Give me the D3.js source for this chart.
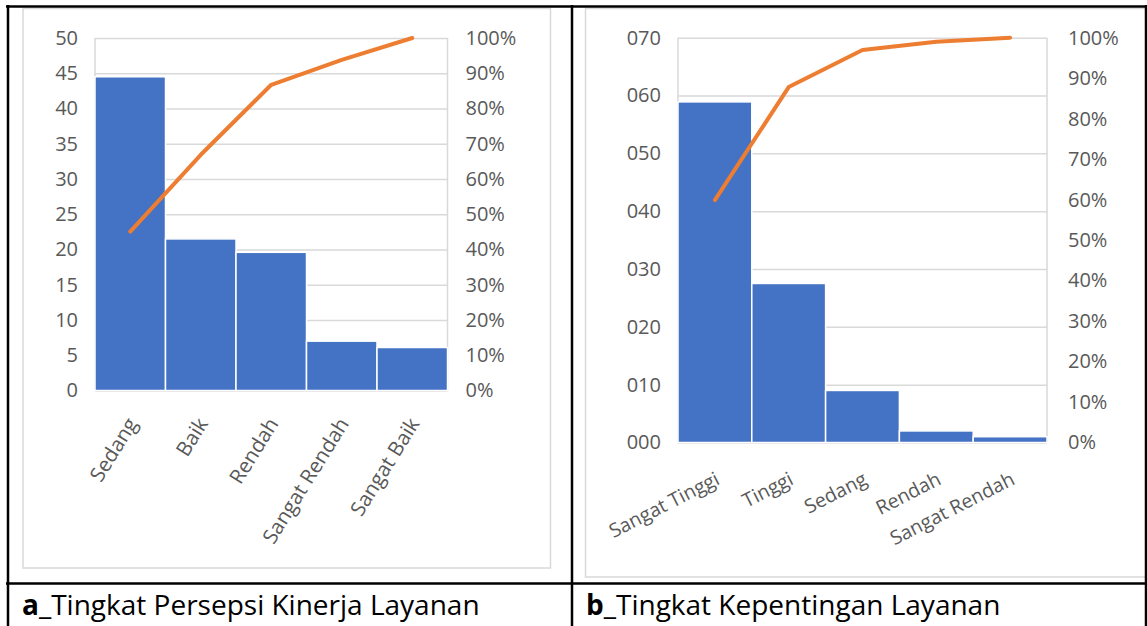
<!DOCTYPE html>
<html>
<head>
<meta charset="utf-8">
<script src="https://cdn.jsdelivr.net/npm/d3@7"></script>
<style>
  html, body { margin: 0; padding: 0; background: #fff; }
  svg { display: block; font-family: "Open Sans", sans-serif; }
</style>
</head>
<body>
<svg id="fig" width="1147" height="626"></svg>
<script>
// Panel a: perceived service performance
const categoriesA = ["Sedang", "Baik", "Rendah", "Sangat Rendah", "Sangat Baik"];
const valuesA = [44.5, 21.5, 19.6, 7.0, 6.1];
const countTicksA = [0, 5, 10, 15, 20, 25, 30, 35, 40, 45, 50];

// Panel b: service importance
const categoriesB = ["Sangat Tinggi", "Tinggi", "Sedang", "Rendah", "Sangat Rendah"];
const valuesB = [58.9, 27.5, 9.0, 2.0, 1.0];
const countTicksB = [0, 10, 20, 30, 40, 50, 60, 70];

// Cumulative share axis (both panels)
const pctTicks = [0, 0.1, 0.2, 0.3, 0.4, 0.5, 0.6, 0.7, 0.8, 0.9, 1.0];

// Captions under each panel
const captionKeys = ["a", "b"];
const captionTexts = ["_Tingkat Persepsi Kinerja Layanan", "_Tingkat Kepentingan Layanan"];

const svg = d3.select("#fig");
const BAR = "#4472C4", LINE = "#ED7D31", GRID = "#d9d9d9", TXT = "#595959";

function pareto(cfg) {
  const g = svg.append("g");
  const total = d3.sum(cfg.values);
  const cum = Array.from(d3.cumsum(cfg.values), v => v / total);

  // chart frame
  g.append("rect")
    .attr("x", cfg.frame[0]).attr("y", cfg.frame[1])
    .attr("width", cfg.frame[2]).attr("height", cfg.frame[3])
    .attr("fill", "#fff").attr("stroke", GRID).attr("stroke-width", 1.5);

  const x = d3.scaleBand().domain(cfg.categories).range([cfg.left, cfg.right]).padding(0);
  const y = d3.scaleLinear().domain([0, d3.max(cfg.ticks)]).range([cfg.bottom, cfg.top]);
  const yp = d3.scaleLinear().domain([0, 1]).range([cfg.bottom, cfg.top]);

  // horizontal gridlines from the count axis
  g.append("g")
    .attr("transform", `translate(${cfg.left},0)`)
    .call(d3.axisLeft(y).tickValues(cfg.ticks).tickSize(-(cfg.right - cfg.left)).tickFormat(""))
    .call(a => a.select(".domain").remove())
    .call(a => a.selectAll("line").attr("stroke", GRID).attr("stroke-width", 1.5));

  // plot side edges
  g.selectAll("line.edge").data([cfg.left, cfg.right]).join("line")
    .attr("class", "edge")
    .attr("x1", d => d).attr("x2", d => d)
    .attr("y1", cfg.top).attr("y2", cfg.bottom)
    .attr("stroke", GRID).attr("stroke-width", 1.5);

  // bars
  g.selectAll("rect.bar").data(cfg.values).join("rect")
    .attr("class", "bar")
    .attr("x", (d, i) => x(cfg.categories[i]))
    .attr("width", x.bandwidth())
    .attr("y", d => y(d))
    .attr("height", d => y(0) - y(d))
    .attr("fill", BAR)
    .attr("stroke", "#fff").attr("stroke-width", 1.5);

  // cumulative share line
  const line = d3.line()
    .x((d, i) => x(cfg.categories[i]) + x.bandwidth() / 2)
    .y(d => yp(d));
  g.append("path").datum(cum)
    .attr("d", line)
    .attr("fill", "none").attr("stroke", LINE)
    .attr("stroke-width", 4).attr("stroke-linecap", "round").attr("stroke-linejoin", "round");

  // left count axis
  g.append("g")
    .attr("transform", `translate(${cfg.left},0)`)
    .call(d3.axisLeft(y).tickValues(cfg.ticks).tickSize(0).tickPadding(cfg.padL).tickFormat(cfg.fmt))
    .call(a => a.select(".domain").remove())
    .call(a => a.selectAll("text").attr("fill", TXT).style("font-size", "20px").style("font-family", "'Open Sans', sans-serif"));

  // right percentage axis
  g.append("g")
    .attr("transform", `translate(${cfg.right},0)`)
    .call(d3.axisRight(yp).tickValues(pctTicks).tickSize(0).tickPadding(cfg.padR).tickFormat(d3.format(".0%")))
    .call(a => a.select(".domain").remove())
    .call(a => a.selectAll("text").attr("fill", TXT).style("font-size", "20px").style("font-family", "'Open Sans', sans-serif"));

  // rotated category labels
  g.selectAll("text.cat").data(cfg.categories).join("text")
    .attr("class", "cat")
    .attr("transform", d => `translate(${x(d) + x.bandwidth() / 2 + cfg.labDx},${cfg.bottom + cfg.labDy}) rotate(${cfg.angle})`)
    .attr("text-anchor", "end")
    .attr("fill", TXT)
    .style("font-size", cfg.labSize + "px")
    .text(d => d);
}

pareto({
  categories: categoriesA, values: valuesA, ticks: countTicksA,
  fmt: d3.format("d"),
  frame: [23, 8.5, 527.5, 559.5],
  left: 95, right: 447.5, top: 38, bottom: 390.5,
  padL: 17, padR: 18, angle: -58, labDx: 8, labDy: 33, labSize: 20.5
});

pareto({
  categories: categoriesB, values: valuesB, ticks: countTicksB,
  fmt: d3.format("03d"),
  frame: [585.5, 8.5, 580, 568.5],
  left: 678, right: 1047, top: 37.7, bottom: 442.5,
  padL: 17, padR: 21, angle: -27, labDx: 6, labDy: 41, labSize: 19.5
});

// table rules
const rules = svg.append("g").attr("stroke", "#000").attr("stroke-width", 2.5);
rules.append("line").attr("x1", 6).attr("x2", 1147).attr("y1", 6.5).attr("y2", 6.5);
rules.append("line").attr("x1", 8).attr("x2", 8).attr("y1", 5).attr("y2", 626);
rules.append("line").attr("x1", 572).attr("x2", 572).attr("y1", 5).attr("y2", 626);
rules.append("line").attr("x1", 1146).attr("x2", 1146).attr("y1", 5).attr("y2", 626);
rules.append("line").attr("x1", 6).attr("x2", 1147).attr("y1", 583.5).attr("y2", 583.5);

// captions
const capX = [22, 586];
captionKeys.forEach((k, i) => {
  const t = svg.append("text")
    .attr("x", capX[i]).attr("y", 615)
    .attr("fill", "#000")
    .style("font-size", "28px");
  t.append("tspan").attr("font-weight", "bold").text(k);
  t.append("tspan").text(captionTexts[i]);
});
</script>
</body>
</html>
